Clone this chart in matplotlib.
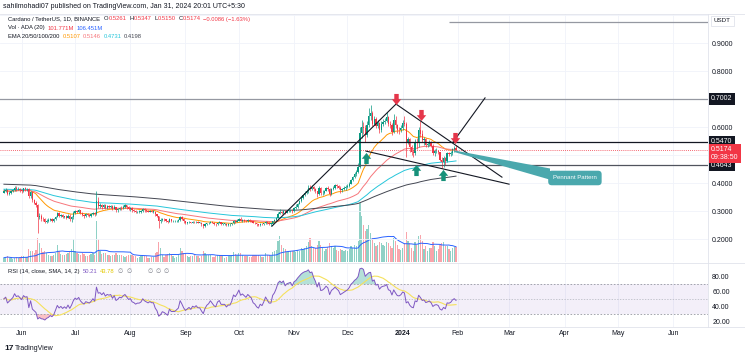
import numpy as np
import pandas as pd
import matplotlib
matplotlib.use("Agg")
import matplotlib.pyplot as plt
import matplotlib.transforms as mtransforms
from matplotlib.lines import Line2D
from matplotlib.path import Path
from matplotlib.patches import Polygon

plt.rcParams["font.family"] = ["Liberation Sans", "DejaVu Sans"]

W, H = 745, 358
START = pd.Timestamp("2023-05-22")

# ---- ADA/USDT daily candles (BINANCE, 1D), 22 May 2023 - 31 Jan 2024 ----
first_open = 0.366
close = [
    .372, .376, .362, .366, .370, .374, .384, .378, .380, .376,  # May
    .372, .381, .378, .379, .352, .368, .338, .330, .322, .278, .282, .272, .270, .262, .266,
    .268, .272, .266, .270, .280, .292, .282, .286, .278, .282, .276, .284, .272, .280, .292,  # Jun
    .300, .296, .302, .292, .286, .282, .288, .286, .284, .288, .294, .288, .335, .318, .320, .314,
    .322, .312, .318, .316, .318, .308, .316, .302, .306, .312, .310, .316, .320, .314, .308,  # Jul
    .310, .302, .300, .296, .298, .298, .300, .306, .302, .300, .298, .300, .298, .298, .288, .282,
    .266, .268, .272, .270, .266, .262, .270, .264, .264, .264, .266, .268, .278, .272, .264,  # Aug
    .258, .260, .262, .258, .262, .260, .262, .258, .258, .252, .246, .252, .256, .258, .262,
    .258, .254, .252, .258, .260, .254, .254, .254, .250, .252, .252, .256, .264, .262, .266,  # Sep
    .272, .266, .268, .266, .264, .268, .266, .264, .258, .256, .252, .250, .254, .252, .256, .262,
    .258, .254, .254, .264, .268, .276, .290, .296, .294, .300, .294, .300, .302, .304, .300,  # Oct
    .312, .316, .326, .336, .348, .358, .366, .370, .384, .380, .386, .378, .372, .362, .382,
    .364, .366, .372, .382, .378, .362, .378, .384, .392, .388, .384, .374, .378, .382, .386,  # Nov
    .390, .398, .412, .420, .432, .440, .458, .580, .600, .596, .572, .608, .640, .650, .612, .630,
    .604, .614, .588, .610, .618, .622, .636, .610, .606, .582, .624, .606, .590, .588, .596,  # Dec
    .616, .612, .548, .556, .528, .512, .506, .548, .542, .590, .574, .552, .556, .536, .540, .546,
    .534, .506, .514, .516, .510, .484, .476, .488, .478, .506, .504, .508, .520, .526, .5174,  # Jan
]
high = [
    .378, .382, .378, .370, .374, .378, .388, .390, .386, .382,
    .380, .384, .386, .384, .382, .372, .372, .342, .336, .326, .292, .290, .280, .276, .270,
    .274, .276, .276, .274, .284, .298, .296, .290, .290, .284, .286, .288, .288, .284, .300,
    .304, .304, .306, .304, .296, .290, .292, .292, .290, .292, .298, .296, .372, .350, .328, .324,
    .326, .324, .322, .322, .322, .320, .320, .316, .310, .316, .318, .320, .324, .322, .318,
    .314, .314, .306, .302, .300, .302, .304, .310, .310, .306, .302, .302, .302, .302, .300, .290,
    .284, .276, .276, .274, .272, .268, .274, .272, .268, .268, .268, .270, .284, .282, .274,
    .266, .262, .264, .262, .264, .264, .264, .264, .260, .260, .254, .256, .258, .262, .264,
    .264, .260, .256, .262, .264, .262, .258, .258, .256, .256, .256, .258, .268, .268, .270,
    .276, .278, .270, .270, .268, .270, .270, .268, .266, .260, .258, .254, .256, .256, .258, .266,
    .264, .260, .258, .266, .272, .280, .296, .306, .300, .304, .302, .304, .306, .308, .306,
    .314, .324, .330, .340, .352, .362, .372, .378, .392, .394, .394, .390, .382, .372, .388,
    .386, .374, .376, .386, .390, .384, .384, .390, .398, .396, .392, .388, .384, .388, .392,
    .396, .402, .416, .424, .440, .446, .470, .600, .624, .618, .606, .620, .668, .680, .656, .640,
    .636, .626, .618, .622, .630, .634, .652, .640, .622, .614, .646, .640, .612, .600, .606,
    .624, .640, .618, .566, .560, .536, .520, .556, .560, .600, .622, .590, .566, .562, .548, .554,
    .550, .538, .520, .524, .518, .512, .492, .496, .492, .512, .512, .514, .526, .534, .5347,
]
low = [
    .365, .368, .358, .356, .362, .368, .372, .372, .374, .368,
    .364, .368, .372, .372, .346, .346, .334, .324, .316, .222, .270, .266, .264, .258, .256,
    .262, .266, .262, .262, .268, .278, .278, .278, .274, .274, .270, .274, .266, .262, .272,
    .288, .292, .294, .290, .282, .276, .278, .282, .280, .280, .286, .284, .286, .312, .310, .308,
    .310, .306, .306, .310, .310, .304, .306, .296, .298, .302, .304, .306, .312, .308, .302,
    .300, .298, .296, .292, .294, .294, .294, .296, .298, .296, .296, .296, .296, .294, .284, .278,
    .238, .256, .264, .266, .262, .258, .260, .262, .262, .262, .262, .262, .266, .268, .258,
    .252, .254, .256, .256, .256, .256, .256, .256, .256, .248, .238, .244, .250, .254, .256,
    .256, .250, .248, .250, .256, .250, .250, .250, .246, .248, .248, .250, .254, .258, .260,
    .264, .264, .262, .262, .260, .262, .262, .262, .256, .252, .248, .246, .248, .250, .250, .254,
    .254, .250, .246, .252, .262, .266, .274, .288, .288, .290, .288, .292, .296, .298, .294,
    .298, .308, .312, .324, .334, .344, .352, .360, .366, .372, .374, .372, .366, .350, .358,
    .356, .358, .362, .370, .372, .352, .358, .374, .380, .382, .378, .366, .368, .374, .376,
    .382, .386, .396, .408, .418, .424, .436, .452, .560, .576, .548, .566, .600, .626, .604, .606,
    .598, .596, .580, .582, .604, .610, .618, .604, .596, .572, .578, .596, .580, .576, .584,
    .588, .602, .494, .540, .512, .500, .494, .500, .522, .528, .566, .546, .536, .530, .528, .534,
    .528, .500, .498, .506, .504, .478, .454, .458, .464, .476, .496, .498, .500, .512, .5150,
]
# volume in millions of ADA
volume = [
    30, 34, 40, 28, 26, 22, 30, 34, 28, 32,
    40, 44, 36, 34, 90, 80, 76, 60, 84, 170, 130, 96, 70, 74, 60,
    52, 40, 44, 46, 64, 120, 80, 56, 52, 46, 56, 64, 72, 90, 160,
    78, 62, 56, 52, 60, 54, 44, 40, 52, 56, 62, 52, 290, 160, 78, 56,
    64, 60, 52, 50, 44, 52, 46, 62, 52, 50, 46, 40, 36, 44, 52,
    46, 50, 40, 44, 30, 32, 44, 48, 40, 40, 30, 28, 32, 38, 60, 72,
    140, 100, 48, 38, 52, 54, 64, 56, 40, 30, 32, 52, 96, 76, 62,
    56, 44, 34, 42, 44, 46, 42, 44, 30, 40, 78, 60, 52, 50, 46,
    36, 34, 44, 50, 46, 52, 42, 30, 32, 44, 40, 46, 72, 56, 50,
    60, 66, 50, 44, 40, 44, 32, 34, 52, 46, 52, 50, 42, 32, 36, 60,
    50, 46, 44, 72, 80, 84, 150, 180, 116, 100, 90, 72, 78, 80, 74,
    76, 70, 84, 76, 96, 94, 100, 110, 140, 170, 110, 96, 100, 120, 150,
    120, 96, 80, 90, 104, 130, 110, 96, 110, 86, 76, 90, 84, 80, 84,
    76, 90, 110, 100, 120, 110, 150, 410, 320, 260, 220, 230, 260, 200, 170, 130,
    110, 120, 140, 130, 120, 110, 140, 130, 110, 100, 170, 150, 120, 90, 84,
    100, 130, 210, 150, 130, 100, 80, 140, 120, 180, 190, 150, 90, 110, 80, 100,
    96, 140, 110, 80, 90, 120, 130, 140, 110, 110, 90, 80, 96, 105, 101.771,
]

ema_periods = [20, 50, 100, 200]
ema_seeds = [0.372, 0.372, 0.378, 0.396]      # EMA values carried in from before 22 May
ema_colors = ["#FF9800", "#F7767B", "#26C6DA", "#434651"]
ema_last = ["0.5107", "0.5146", "0.4731", "0.4198"]

price_ticks = [0.2, 0.3, 0.4, 0.6, 0.8, 0.9]
key_levels = [0.7002, 0.5470, 0.4643]
level_colors = ["#9598A1", "#131722", "#50535E"]
last_price = 0.5174
rsi_ticks = [20, 40, 60, 80]

# chart drawings: (time, price)
trendlines = [
    (("2023-10-19 14:00", 0.246), ("2023-12-28 07:00", 0.682)),
    (("2023-12-28 07:00", 0.682), ("2024-02-25 19:00", 0.421)),
    (("2023-12-11 10:00", 0.514), ("2024-02-29 19:00", 0.396)),
    (("2024-01-29 07:00", 0.546), ("2024-02-16 07:00", 0.704)),
]
top_line = ("2024-01-27 00:00", 0.976)
sell_marks = [("2023-12-28 07:00", 0.700), ("2024-01-11 07:00", 0.643), ("2024-01-30 10:00", 0.561)]
buy_marks = [("2023-12-11 10:00", 0.489), ("2024-01-08 12:00", 0.446), ("2024-01-23 17:00", 0.429)]
callout = [("2024-01-30 10:00", 0.516), ("2024-03-23 19:00", 0.452),
           ("2024-03-23 19:00", 0.412), ("2024-01-30 10:00", 0.510)]
callout_label = ("2024-04-06 19:00", 0.418, "Pennant Pattern")

UP, DOWN = "#089981", "#F23645"
GRID = "#F0F3FA"
BORDER = "#E0E3EB"
TXT = "#131722"
GREY = "#787B86"


def day(ts):
    return (pd.Timestamp(ts) - START) / pd.Timedelta(days=1)


def ema(vals, span, seed):
    s = pd.Series([seed] + list(vals))
    return s.ewm(span=span, adjust=False).mean().to_numpy()[1:]


def rsi_wilder(delta, n=14, g0=0.0030, l0=0.0034):
    ag, al, out = g0, l0, []
    for d in delta:
        ag = (ag * (n - 1) + max(d, 0)) / n
        al = (al * (n - 1) + max(-d, 0)) / n
        out.append(100 - 100 / (1 + ag / al))
    return np.array(out)


c = np.array(close)
o = np.r_[first_open, c[:-1]]
hi = np.maximum(np.array(high), np.maximum(o, c))
lo = np.minimum(np.array(low), np.minimum(o, c))
vol = np.array(volume)
n = len(c)
x = np.arange(n)
up = c >= o
cols = np.where(up, UP, DOWN)

rsi = rsi_wilder(c - o)
rsi_ma = pd.Series(rsi).rolling(14, min_periods=1).mean().to_numpy()
vol_ma = pd.Series(vol).rolling(20, min_periods=1).mean().to_numpy()

fig = plt.figure(figsize=(W / 100, H / 100), dpi=100)
renderer = fig.canvas.get_renderer()


def rect(x0, y0, x1, y1):
    return [x0 / W, 1 - y1 / H, (x1 - x0) / W, (y1 - y0) / H]


def ftxt(px, py, s, **kw):
    kw.setdefault("fontsize", 5)
    kw.setdefault("color", TXT)
    return fig.text(px / W, 1 - py / H, s, va="center", **kw)


def chain(px, py, parts, fs=4.2):
    # lay out (text, colour, gap-after) pieces left to right
    for s, col, gap in parts:
        t = ftxt(px, py, s, color=col, fontsize=fs)
        px += t.get_window_extent(renderer=renderer).width + gap


XL = (-2.19, 395.55)
ax_vol = fig.add_axes(rect(0, 14, 708, 262))
ax = fig.add_axes(rect(0, 14, 708, 262), sharex=ax_vol)
ax.patch.set_alpha(0)
ax_rsi = fig.add_axes(rect(0, 263, 708, 327), sharex=ax_vol)
for a in (ax_vol, ax, ax_rsi):
    for sp in a.spines.values():
        sp.set_visible(False)
ax_vol.set_xlim(*XL)

months = pd.date_range("2023-06-01", "2024-06-01", freq="MS")
month_x = [day(m) for m in months]
month_lbl = ["2024" if m.month == 1 else m.strftime("%b") for m in months]

# volume (bottom layer)
ax_vol.bar(x, vol, width=0.7, color=cols, alpha=0.45, linewidth=0)
ax_vol.plot(x, vol_ma, color="#2962FF", lw=0.7)
ax_vol.set_ylim(0, 1736)
ax_vol.set_yticks([])
ax_vol.tick_params(axis="x", length=0, labelbottom=False)
for mx in month_x:
    ax_vol.axvline(mx, color=GRID, lw=0.6, zorder=0)

# price pane
ax.set_ylim(0.118, 1.0036)
for g in np.arange(0.2, 1.01, 0.1):
    ax.axhline(g, color=GRID, lw=0.6, zorder=0)
ax.vlines(x, lo, hi, colors=cols, lw=0.5, zorder=3)
ax.bar(x, np.maximum(np.abs(c - o), 0.0015), bottom=np.minimum(o, c), width=0.72,
       color=cols, linewidth=0, zorder=3)
for per, seed, col in zip(ema_periods, ema_seeds, ema_colors):
    ax.plot(x, ema(c, per, seed), color=col, lw=0.7, zorder=2)

for lvl, col in zip(key_levels, level_colors):
    ax.axhline(lvl, color=col, lw=0.9, zorder=4)
ax.axhline(last_price, color=DOWN, lw=0.6, ls=(0, (1, 1.5)), zorder=4)
ax.hlines(top_line[1], day(top_line[0]), XL[1], color="#9598A1", lw=0.9)

for (t0, p0), (t1, p1) in trendlines:
    ax.plot([day(t0), day(t1)], [p0, p1], color=TXT, lw=0.8, zorder=5)

ax.add_patch(Polygon([(day(t), p) for t, p in callout], closed=True,
                     facecolor="#4AA8AD", edgecolor="none", zorder=5))
ax.text(day(callout_label[0]), callout_label[1], callout_label[2], fontsize=4.3,
        color="white", ha="center", va="center", zorder=6,
        bbox=dict(boxstyle="round,pad=0.8,rounding_size=0.6", fc="#4AA8AD", ec="none"))

arrow_dn = Path([(-0.4, 1), (0.4, 1), (0.4, 0.05), (0.85, 0.05), (0, -1),
                 (-0.85, 0.05), (-0.4, 0.05), (-0.4, 1)], closed=True)
arrow_up = Path([(vx, -vy) for vx, vy in arrow_dn.vertices], closed=True)
ax.plot([day(t) for t, _ in sell_marks], [p for _, p in sell_marks], ls="none",
        marker=arrow_dn, ms=8, color="#E5364A", mec="none", zorder=7)
ax.plot([day(t) for t, _ in buy_marks], [p for _, p in buy_marks], ls="none",
        marker=arrow_up, ms=8, color="#17917A", mec="none", zorder=7)

ax.yaxis.tick_right()
ax.set_yticks(price_ticks)
ax.set_yticklabels([f"{v:.4f}" for v in price_ticks])
ax.tick_params(axis="y", length=0, pad=3, labelsize=5, labelcolor=TXT)
ax.tick_params(axis="x", length=0, labelbottom=False)

bt = mtransforms.blended_transform_factory(ax.transAxes, ax.transData)
for lvl in key_levels:
    ax.text(1.0045, lvl, f"{lvl:.4f}", transform=bt, fontsize=5, color="white",
            ha="left", va="center", clip_on=False,
            bbox=dict(boxstyle="square,pad=0.3", fc=TXT, ec="none"))
ax.text(1.0045, last_price + 0.014, f"{last_price:.4f}\n09:38:50", transform=bt,
        fontsize=5, color="white", ha="left", va="top", linespacing=1.15, clip_on=False,
        bbox=dict(boxstyle="square,pad=0.3", fc=DOWN, ec="none"))

# RSI pane
ax_rsi.set_ylim(12.9, 98.3)
for mx in month_x:
    ax_rsi.axvline(mx, color=GRID, lw=0.6, zorder=0)
ax_rsi.axhspan(30, 70, color="#7E57C2", alpha=0.09, lw=0)
ax_rsi.axhline(70, color="#9598A1", lw=0.6, ls=(0, (2, 2)))
ax_rsi.axhline(30, color="#9598A1", lw=0.6, ls=(0, (2, 2)))
ax_rsi.axhline(50, color="#B2B5BE", lw=0.5, ls=(0, (2, 2)))
ax_rsi.fill_between(x, 70, rsi, where=rsi > 70, interpolate=True, color=UP, alpha=0.3, lw=0)
ax_rsi.fill_between(x, 30, rsi, where=rsi < 30, interpolate=True, color=DOWN, alpha=0.3, lw=0)
ax_rsi.plot(x, rsi_ma, color="#F5E15C", lw=0.8)
ax_rsi.plot(x, rsi, color="#7E57C2", lw=0.7)
ax_rsi.yaxis.tick_right()
ax_rsi.set_yticks(rsi_ticks)
ax_rsi.set_yticklabels([f"{v:.2f}" for v in rsi_ticks])
ax_rsi.tick_params(axis="y", length=0, pad=3, labelsize=5, labelcolor=TXT)
ax_rsi.set_xticks(month_x)
ax_rsi.set_xticklabels(month_lbl)
ax_rsi.tick_params(axis="x", length=0, pad=2.5, labelsize=5, labelcolor=TXT)
for t in ax_rsi.get_xticklabels():
    if t.get_text() == "2024":
        t.set_fontweight("bold")
ax_rsi.set_xlim(*XL)

# pane borders
for y in (14, 262.5, 327):
    fig.add_artist(Line2D([0, 1], [1 - y / H] * 2, color=BORDER, lw=0.6))
fig.add_artist(Line2D([708 / W] * 2, [1 - 327 / H, 1 - 14 / H], color=BORDER, lw=0.6))

# header / legend texts
ftxt(3, 6, "sahilmohadi07 published on TradingView.com, Jan 31, 2024 20:01 UTC+5:30")
chain(8, 19, [("Cardano / TetherUS, 1D, BINANCE", TXT, 4),
              ("O", TXT, 0.3), ("0.5261", DOWN, 2.5), ("H", TXT, 0.3), ("0.5347", DOWN, 2.5),
              ("L", TXT, 0.3), ("0.5150", DOWN, 2.5), ("C", TXT, 0.3), ("0.5174", DOWN, 2.5),
              ("\u22120.0086 (\u22121.63%)", DOWN, 0)])
chain(8, 28, [("Vol \u00b7 ADA (20)", TXT, 3), ("101.771M", DOWN, 3), ("106.451M", "#2962FF", 0)])
chain(8, 36.5, [("EMA 20/50/100/200", TXT, 3)] + [(s, col, 2.5) for s, col in zip(ema_last, ema_colors)])
chain(8, 271.5, [("RSI (14, close, SMA, 14, 2)", TXT, 3), ("50.21", "#7E57C2", 3),
                 ("43.78", "#E3C800", 3), ("\u2205", GREY, 3), ("\u2205", GREY, 0)])
chain(147, 271.5, [("\u2205", GREY, 3), ("\u2205", GREY, 3), ("\u2205", GREY, 0)])
ftxt(714, 21, "USDT", fontsize=4.5,
     bbox=dict(boxstyle="square,pad=0.45", fc="white", ec=BORDER, lw=0.6))
ftxt(4, 348, "17", fontsize=6, fontweight="bold")
ftxt(15, 348, "TradingView", fontsize=5)

fig.savefig("out.png", dpi=100)
